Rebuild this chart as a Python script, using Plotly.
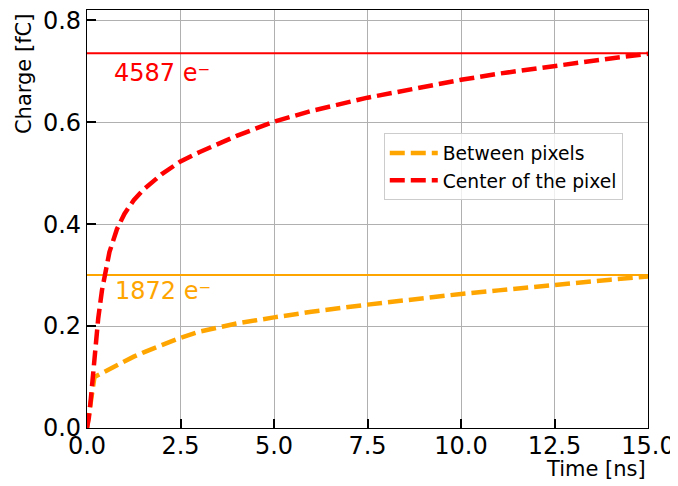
import plotly.graph_objects as go

# Time axis (ns)
time_ns = [0, 0.05, 0.1, 0.15, 0.2, 0.3, 0.4, 0.5, 0.6, 0.8, 1.0, 1.25, 1.5, 2.0, 2.5,
           3.0, 4.0, 5.0, 6.0, 7.5, 9.0, 10.0, 11.0, 12.5, 14.0, 15.0]

# Charge (fC) for the pixel centre
center_fc = [0, 0.02, 0.055, 0.10, 0.14, 0.215, 0.27, 0.305, 0.345, 0.39, 0.42, 0.447,
             0.467, 0.498, 0.523, 0.541, 0.573, 0.601, 0.622, 0.648, 0.670, 0.683,
             0.695, 0.711, 0.725, 0.734]

# Charge (fC) between pixels
between_fc = [0, 0.025, 0.05, 0.08, 0.100, 0.104, 0.108, 0.112, 0.116, 0.124, 0.131,
              0.140, 0.148, 0.163, 0.177, 0.189, 0.205, 0.217, 0.228, 0.242, 0.255,
              0.263, 0.270, 0.281, 0.291, 0.297]

# Total collected charge levels
level_fc = [0.735, 0.300]
level_labels = ["4587 e⁻", "1872 e⁻"]
level_label_pos = [(0.67, 0.697), (0.69, 0.269)]
level_colors = ["red", "orange"]

x_ticks = [0, 2.5, 5.0, 7.5, 10.0, 12.5, 15.0]
y_ticks = [0, 0.2, 0.4, 0.6, 0.8]
x_range = [0, 15]
y_range = [0, 0.82]

fig = go.Figure()

for lv, col in zip(level_fc, level_colors):
    fig.add_trace(go.Scatter(x=x_range, y=[lv, lv], mode="lines",
                             line=dict(color=col, width=2), showlegend=False,
                             hoverinfo="skip"))

fig.add_trace(go.Scatter(x=time_ns, y=between_fc, mode="lines", name="Between pixels",
                         line=dict(color="orange", width=4.5, dash="15px,6px")))
fig.add_trace(go.Scatter(x=time_ns, y=center_fc, mode="lines", name="Center of the pixel",
                         line=dict(color="red", width=4.5, dash="15px,6px")))

annotations = []
for (ax, ay), txt, col in zip(level_label_pos, level_labels, level_colors):
    annotations.append(dict(x=ax, y=ay, xref="x", yref="y", text=txt, showarrow=False,
                            xanchor="left", yanchor="middle",
                            font=dict(size=24, color=col)))

annotations.append(dict(x=1, y=-0.098, xref="paper", yref="paper", text="Time [ns]",
                        showarrow=False, xanchor="right", yanchor="middle",
                        font=dict(size=21, color="black")))
annotations.append(dict(x=-0.1123, y=0.995, xref="paper", yref="paper", text="Charge [fC]",
                        showarrow=False, xanchor="center", yanchor="top", textangle=-90,
                        font=dict(size=21, color="black")))

axis_common = dict(ticks="inside", ticklen=9, tickwidth=1.5, tickcolor="black",
                   showgrid=True, gridcolor="#b0b0b0", gridwidth=1,
                   showline=True, linecolor="black", linewidth=1.2, mirror=True,
                   zeroline=False, tickfont=dict(size=24, color="black"),
                   automargin=False, ticklabeloverflow="allow")

fig.update_layout(
    width=678, height=486,
    # page body has an 8px offset; margins compensate so the plot area lands at 87..648 x 10..428
    margin=dict(l=79, r=38, t=2, b=66),
    plot_bgcolor="white", paper_bgcolor="white",
    font=dict(family="DejaVu Sans", color="black"),
    xaxis=dict(range=x_range, tickvals=x_ticks, ticktext=[f"{v:.1f}" for v in x_ticks],
               ticklabelstandoff=-4, **axis_common),
    yaxis=dict(range=y_range, tickvals=y_ticks, ticktext=[f"{v:.1f}" for v in y_ticks],
               **axis_common),
    legend=dict(x=0.529, y=0.705, xanchor="left", yanchor="top",
                bordercolor="#cccccc", borderwidth=1, bgcolor="rgba(255,255,255,0.8)",
                font=dict(size=18.7), itemwidth=48),
    annotations=annotations,
)

fig.write_html("out.html")
